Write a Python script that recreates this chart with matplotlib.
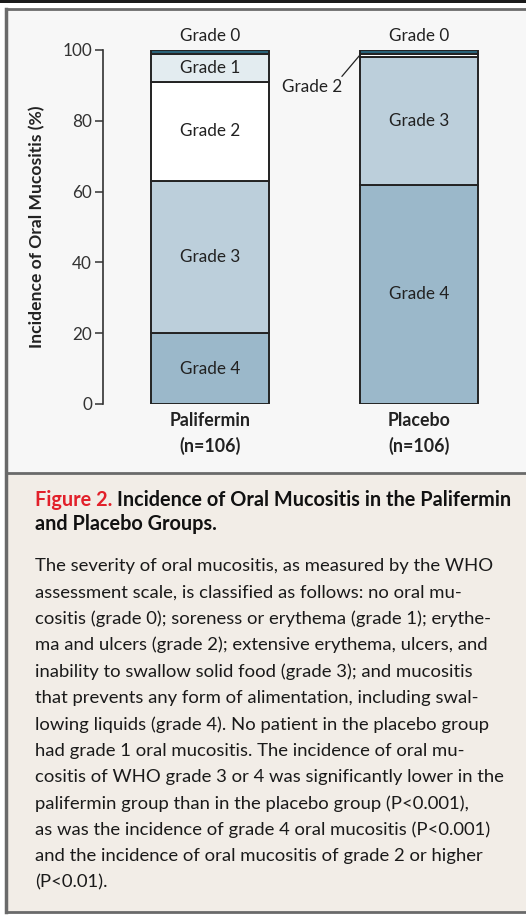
import matplotlib
matplotlib.use("Agg")
import matplotlib.pyplot as plt
from matplotlib.patches import Rectangle
import numpy as np

plt.rcParams['font.family'] = ['Lato', 'DejaVu Sans']

# ---------------- data ----------------
groups = ["Palifermin\n(n=106)", "Placebo\n(n=106)"]
grades = ["Grade 4", "Grade 3", "Grade 2", "Grade 1", "Grade 0"]
palifermin = [20, 43, 28, 8, 1]
placebo = [62, 36, 1, 0, 1]
colors = ["#9bb8ca", "#bccfdb", "#ffffff", "#e3ecf0", "#2a6379"]
yticks = [0, 20, 40, 60, 80, 100]

caption_title_red = "Figure 2."
caption_title_1 = "Incidence of Oral Mucositis in the Palifermin"
caption_title_2 = "and Placebo Groups."
caption_lines = [
    "The severity of oral mucositis, as measured by the WHO",
    "assessment scale, is classified as follows: no oral mu-",
    "cositis (grade 0); soreness or erythema (grade 1); erythe-",
    "ma and ulcers (grade 2); extensive erythema, ulcers, and",
    "inability to swallow solid food (grade 3); and mucositis",
    "that prevents any form of alimentation, including swal-",
    "lowing liquids (grade 4). No patient in the placebo group",
    "had grade 1 oral mucositis. The incidence of oral mu-",
    "cositis of WHO grade 3 or 4 was significantly lower in the",
    "palifermin group than in the placebo group (P<0.001),",
    "as was the incidence of grade 4 oral mucositis (P<0.001)",
    "and the incidence of oral mucositis of grade 2 or higher",
    "(P<0.01).",
]

W, H = 526, 917
fig = plt.figure(figsize=(W / 100, H / 100), dpi=100)
fig.patch.set_facecolor("white")

# background axes in pixel coords
bg = fig.add_axes([0, 0, 1, 1])
bg.set_xlim(0, W)
bg.set_ylim(H, 0)
bg.axis("off")
bg.add_patch(Rectangle((0, 0), W, 2.5, color="#1a1a1a", lw=0))
bg.add_patch(Rectangle((5.5, 9), W, 464, facecolor="#f7f7f7", lw=0))
bg.add_patch(Rectangle((5.5, 473), W, 439, facecolor="#f2ede7", lw=0))
bcol = "#6a6a6a"
bg.plot([5.5, 5.5], [9, 912], color=bcol, lw=2.5, solid_capstyle="projecting")
bg.plot([5.5, W], [9, 9], color=bcol, lw=2.0)
bg.plot([5.5, W], [473, 473], color=bcol, lw=2.0)
bg.plot([5.5, W], [912, 912], color=bcol, lw=2.0)

# caption
TFS = 14.3
t = bg.text(35, 500, caption_title_red + " ", color="#e2202a", fontsize=TFS,
            fontweight="bold", va="center", ha="left")
fig.canvas.draw()
bb = t.get_window_extent()
bg.text(bb.x1, H - 500, caption_title_1, transform=None, color="#111111", fontsize=TFS,
        fontweight="bold", va="center", ha="left")
bg.text(35, 524, caption_title_2, color="#111111", fontsize=TFS,
        fontweight="bold", va="center", ha="left")
y0 = 566
for i, line in enumerate(caption_lines):
    bg.text(35, y0 + i * 26.4, line, color="#1a1a1a", fontsize=13.3,
            va="center", ha="left")

# chart axes
ax_left, ax_right = 103, 515
ax_top, ax_bot = 50, 404
ax = fig.add_axes([ax_left / W, 1 - ax_bot / H, (ax_right - ax_left) / W, (ax_bot - ax_top) / H])
ax.set_facecolor("none")
x = np.array([0, 1])
width = 0.565
ax.set_xlim(-0.512, 1.459)
ax.set_ylim(0, 100)

data = np.array([palifermin, placebo])
bottoms = np.zeros(2)
for gi, g in enumerate(grades):
    vals = data[:, gi]
    ax.bar(x, vals, width, bottom=bottoms, color=colors[gi], edgecolor="#232323",
           linewidth=1.4, zorder=3)
    bottoms += vals

LFS = 12.3
lab_kw = dict(ha="center", va="center", fontsize=LFS, color="#222222", zorder=5)
for xi, vals in zip(x, data):
    cum = np.concatenate([[0], np.cumsum(vals)])
    for gi, g in enumerate(grades):
        v = vals[gi]
        if v >= 5:
            ax.text(xi, (cum[gi] + cum[gi + 1]) / 2, g, **lab_kw)
    ax.text(xi, 104, "Grade 0", clip_on=False, **lab_kw)

# Grade 2 annotation for placebo
ax.annotate("Grade 2", xy=(1 - width / 2, placebo[0] + placebo[1] + 0.6),
            xytext=(0.49, 89.5), textcoords="data", ha="center", va="center",
            fontsize=LFS, color="#222222",
            arrowprops=dict(arrowstyle="-", color="#222222", lw=0.9,
                            shrinkA=0, shrinkB=0, relpos=(0.95, 1.0)),
            annotation_clip=False)

for s in ["top", "right", "bottom"]:
    ax.spines[s].set_visible(False)
ax.spines["left"].set_color("#333333")
ax.spines["left"].set_linewidth(1.2)
ax.set_yticks(yticks)
ax.tick_params(axis="y", direction="out", length=6, width=1.1, color="#333333",
               labelsize=12.3, labelcolor="#333333", pad=2)
ax.set_xticks(x)
ax.set_xticklabels(groups, fontweight="bold", fontsize=12.8, color="#222222",
                   linespacing=1.5)
ax.tick_params(axis="x", length=0, pad=6)
ax.set_ylabel("Incidence of Oral Mucositis (%)", fontweight="bold", fontsize=12.6,
              color="#222222", labelpad=12)

fig.savefig("out.png", dpi=100)
